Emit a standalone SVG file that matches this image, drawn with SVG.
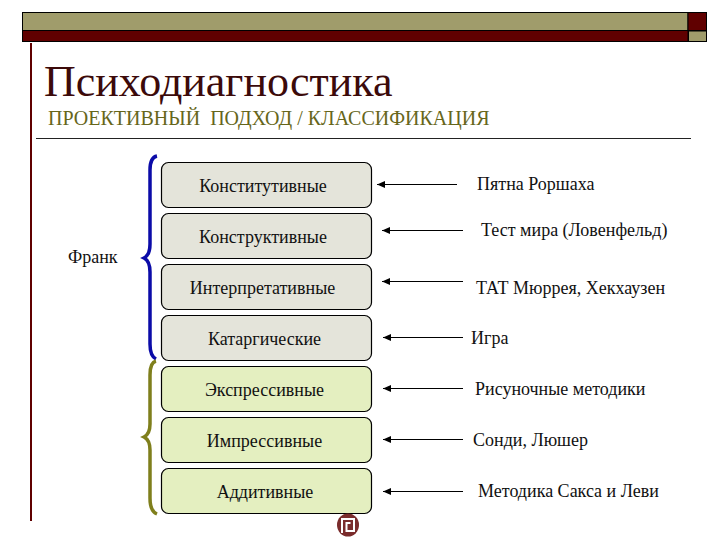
<svg xmlns="http://www.w3.org/2000/svg" width="720" height="540" viewBox="0 0 720 540">
<style>
text{font-family:"Liberation Serif","Times New Roman",serif;fill:#111}
.n rect{stroke:#000;stroke-width:1.2}
.a rect{fill:#e4e4da}
.b rect{fill:#e4efc0}
.n text{font-size:18px;text-anchor:middle}
.l{font-size:18px}
.c line{stroke:#000;stroke-width:1}
.br{fill:none;stroke-width:3.500}
</style>
<defs>
<marker id="ah" markerUnits="userSpaceOnUse" markerWidth="8" markerHeight="7" refX="8" refY="3.5" orient="auto"><path d="M0 0L8 3.5L0 7Z" fill="#000"/></marker>
</defs>
<g id="banner" stroke="#000" stroke-width="1">
<rect x="22.500" y="12.500" width="665.500" height="18" fill="#a09c6b"/>
<rect x="22.500" y="30.500" width="665.500" height="11" fill="#600000"/>
<rect x="688" y="12.500" width="18.500" height="18" fill="#600000"/>
<rect x="688.500" y="31" width="18" height="10.500" fill="#a09c6b"/>
</g>
<rect x="30" y="43" width="2" height="478" fill="#600000"/>
<rect x="36" y="138" width="655" height="1" fill="#222"/>
<text x="44" y="96" font-size="44" style="fill:#3c0a0a">Психодиагностика</text>
<text x="48" y="125" font-size="20" style="fill:#66661a;white-space:pre">ПРОЕКТИВНЫЙ  ПОДХОД / КЛАССИФИКАЦИЯ</text>
<g id="n1" class="n a"><rect x="161.500" y="162.500" width="210" height="45" rx="7"/><text x="263" y="192">Конститутивные</text></g>
<g id="n2" class="n a"><rect x="161.500" y="213.500" width="210" height="45" rx="7"/><text x="263" y="243">Конструктивные</text></g>
<g id="n3" class="n a"><rect x="161.500" y="264.500" width="210" height="45" rx="7"/><text x="262.500" y="294">Интерпретативные</text></g>
<g id="n4" class="n a"><rect x="161.500" y="315.500" width="210" height="45" rx="7"/><text x="264.500" y="345">Катаргические</text></g>
<g id="n5" class="n b"><rect x="161.500" y="366.500" width="210" height="45" rx="7"/><text x="264.500" y="396">Экспрессивные</text></g>
<g id="n6" class="n b"><rect x="161.500" y="417.500" width="210" height="45" rx="7"/><text x="264.500" y="447">Импрессивные</text></g>
<g id="n7" class="n b"><rect x="161.500" y="468.500" width="210" height="45" rx="7"/><text x="265" y="498">Аддитивные</text></g>
<g id="connectors" class="c">
<line x1="457" y1="184.500" x2="377" y2="184.500" marker-end="url(#ah)"/>
<line x1="463" y1="230.500" x2="382" y2="230.500" marker-end="url(#ah)"/>
<line x1="463" y1="281.500" x2="382" y2="281.500" marker-end="url(#ah)"/>
<line x1="463" y1="337.500" x2="383" y2="337.500" marker-end="url(#ah)"/>
<line x1="463" y1="388.500" x2="383" y2="388.500" marker-end="url(#ah)"/>
<line x1="463" y1="439.500" x2="383" y2="439.500" marker-end="url(#ah)"/>
<line x1="463" y1="491.500" x2="383" y2="491.500" marker-end="url(#ah)"/>
</g>
<g id="brace-blue"><path class="br" stroke="#0b0ba8" d="M157 156C152 157 150 161 150 170V244C150 252 148 256 144 258C148 260 150 264 150 272V344C150 353 152 357 156 359"/></g>
<g id="brace-olive"><path class="br" stroke="#7f7f1c" d="M156 361C152 362 150 366 150 375V424C150 431 148 435 144 437C148 439 150 443 150 450V498C150 507 152 512 157 514"/></g>
<text class="l" x="68" y="263">Франк</text>
<text class="l" x="477" y="190">Пятна Роршаха</text>
<text class="l" x="481" y="236">Тест мира (Ловенфельд)</text>
<text class="l" x="476" y="294">ТАТ Мюррея, Хекхаузен</text>
<text class="l" x="471" y="344">Игра</text>
<text class="l" x="475" y="395">Рисуночные методики</text>
<text class="l" x="473" y="446">Сонди, Люшер</text>
<text class="l" x="478" y="497">Методика Сакса и Леви</text>
<g id="logo"><ellipse cx="348" cy="525" rx="11" ry="11.500" fill="#7a2c2c"/><path d="M342 533V519H354V531H346.500V523H350.500" fill="none" stroke="#fff" stroke-width="2"/></g>
</svg>
